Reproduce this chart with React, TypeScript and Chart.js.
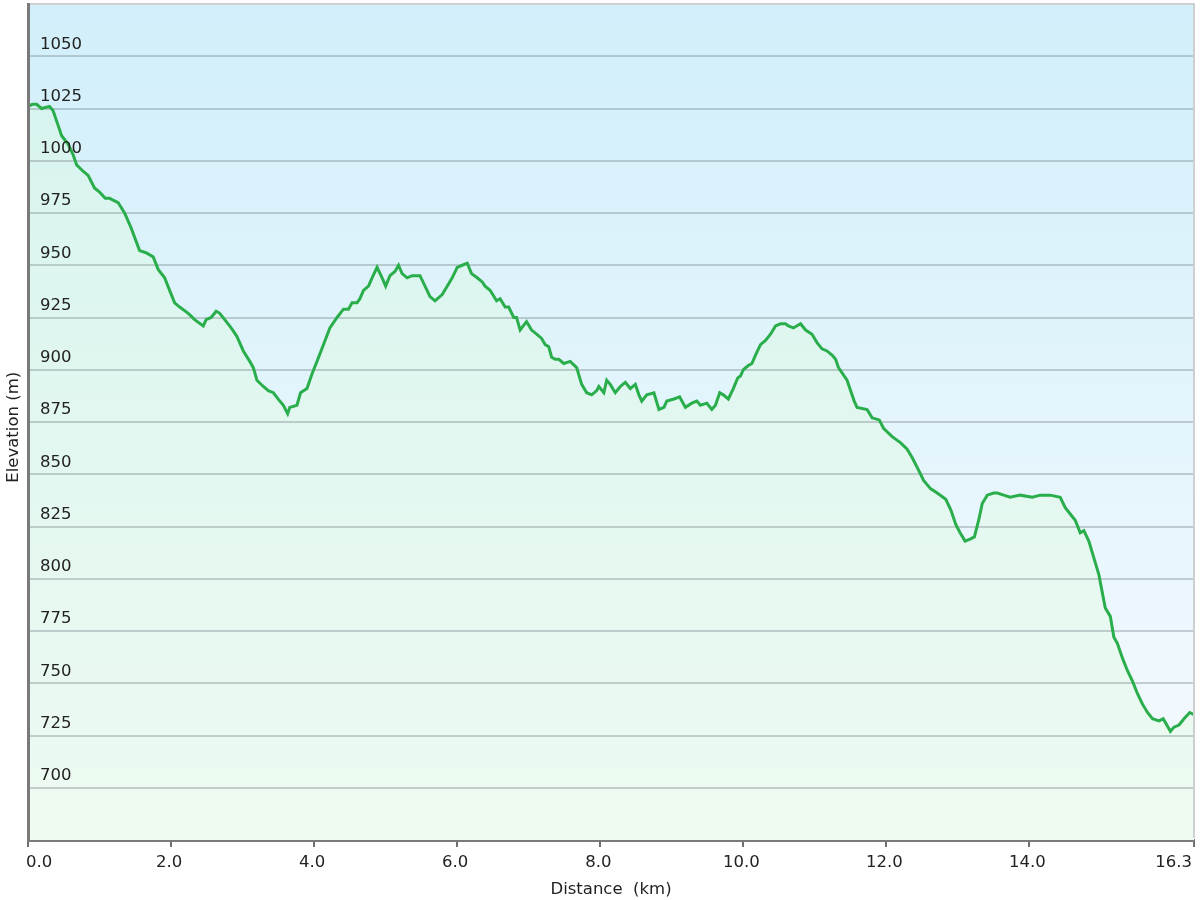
import React, { useEffect, useRef } from "react";
import { Chart, registerables } from "chart.js";

Chart.register(...registerables);

const distanceKm = [
  0.0, 0.06, 0.12, 0.19, 0.3, 0.35, 0.41, 0.47, 0.56, 0.63, 0.68, 0.77, 0.84, 0.93, 1.0, 1.08, 1.14, 1.26, 1.35, 1.44,
  1.56, 1.65, 1.75, 1.82, 1.91, 1.98, 2.05, 2.12, 2.24, 2.33, 2.45, 2.49, 2.56, 2.63, 2.68, 2.75, 2.84, 2.92, 3.01, 3.1,
  3.15, 3.2, 3.29, 3.36, 3.43, 3.52, 3.57, 3.63, 3.66, 3.76, 3.81, 3.9, 3.97, 4.04, 4.13, 4.22, 4.32, 4.41, 4.48, 4.53,
  4.6, 4.64, 4.69, 4.76, 4.81, 4.88, 4.95, 5.0, 5.06, 5.13, 5.18, 5.23, 5.3, 5.37, 5.48, 5.55, 5.62, 5.69, 5.79, 5.86,
  5.93, 6.0, 6.07, 6.14, 6.2, 6.28, 6.35, 6.39, 6.46, 6.55, 6.6, 6.67, 6.72, 6.79, 6.83, 6.88, 6.97, 7.04, 7.11, 7.18,
  7.23, 7.28, 7.32, 7.37, 7.42, 7.49, 7.58, 7.67, 7.74, 7.81, 7.88, 7.95, 7.98, 8.05, 8.09, 8.14, 8.21, 8.28, 8.35, 8.42,
  8.49, 8.54, 8.58, 8.65, 8.75, 8.82, 8.89, 8.93, 9.03, 9.11, 9.19, 9.28, 9.35, 9.4, 9.49, 9.56, 9.61, 9.67, 9.72, 9.79,
  9.86, 9.92, 9.96, 10.0, 10.07, 10.12, 10.17, 10.24, 10.31, 10.38, 10.45, 10.52, 10.59, 10.63, 10.7, 10.8, 10.87, 10.96,
  11.03, 11.1, 11.17, 11.24, 11.29, 11.33, 11.45, 11.5, 11.55, 11.59, 11.73, 11.8, 11.9, 11.96, 12.08, 12.2, 12.29, 12.36,
  12.45, 12.52, 12.62, 12.71, 12.83, 12.9, 12.97, 13.03, 13.1, 13.17, 13.23, 13.29, 13.34, 13.41, 13.5, 13.55, 13.64,
  13.73, 13.87, 14.04, 14.15, 14.29, 14.43, 14.5, 14.57, 14.64, 14.71, 14.76, 14.83, 14.9, 14.97, 15.02, 15.06, 15.13,
  15.18, 15.23, 15.3, 15.37, 15.44, 15.51, 15.58, 15.65, 15.72, 15.81, 15.87, 15.92, 15.97, 16.02, 16.09, 16.16, 16.24,
  16.3,
];

const elevationM = [
  1026, 1027, 1027, 1025, 1026, 1024, 1018, 1012, 1008, 1003, 998, 995, 993, 987, 985, 982, 982, 980, 975, 968,
  957, 956, 954, 948, 944, 938, 932, 930, 927, 924, 921, 924, 925, 928, 927, 924, 920, 916, 909, 904,
  901, 895, 892, 890, 889, 885, 883, 879, 882, 883, 889, 891, 898, 904, 912, 920, 925, 929, 929, 932,
  932, 934, 938, 940, 944, 949, 944, 940, 945, 947, 950, 946, 944, 945, 945, 940, 935, 933, 936, 940,
  944, 949, 950, 951, 946, 944, 942, 940, 938, 933, 934, 930, 930, 925, 925, 919, 923, 919, 917, 915,
  912, 911, 906, 905, 905, 903, 904, 901, 893, 889, 888, 890, 892, 889, 895, 893, 889, 892, 894, 891,
  893, 888, 885, 888, 889, 881, 882, 885, 886, 887, 882, 884, 885, 883, 884, 881, 883, 889, 888, 886,
  891, 896, 897, 900, 902, 903, 907, 912, 914, 917, 921, 922, 922, 921, 920, 922, 919, 917,
  913, 910, 909, 907, 905, 901, 895, 890, 885, 882, 881, 877, 876, 872, 868, 865, 862, 858,
  852, 847, 843, 841, 838, 833, 826, 822, 818, 819, 820, 828, 836, 840, 841, 841, 840,
  839, 840, 839, 840, 840, 839, 834, 831, 828, 822, 823, 818, 810, 802, 793, 786, 782,
  772, 769, 762, 756, 751, 745, 740, 736, 733, 732, 733, 730, 727, 729, 730, 733, 736,
  735,
];

const xTickValues = [0, 2, 4, 6, 8, 10, 12, 14, 16.3];
const yGridValues = [700, 725, 750, 775, 800, 825, 850, 875, 900, 925, 950, 975, 1000, 1025, 1050];
const Y_MIN = 675;
const Y_MAX = 1075;
const X_MAX = 16.3;

const FONT = { family: "'DejaVu Sans', Verdana, sans-serif", size: 16.5 };
const TEXT = "#222222";

const backgroundPlugin = {
  id: "bgGradient",
  beforeDraw(chart: any) {
    const a = chart.chartArea;
    if (!a) return;
    const ctx = chart.ctx;
    const g = ctx.createLinearGradient(0, a.top, 0, a.bottom);
    g.addColorStop(0, "#d1effa");
    g.addColorStop(1, "#f6fafe");
    ctx.save();
    ctx.fillStyle = g;
    ctx.fillRect(a.left, a.top, a.right - a.left, a.bottom - a.top);
    ctx.restore();
  },
};

const gridPlugin = {
  id: "gridOverFill",
  beforeDatasetsDraw(chart: any) {
    const a = chart.chartArea;
    const y = chart.scales.y;
    const ctx = chart.ctx;
    ctx.save();
    ctx.strokeStyle = "rgba(120,135,140,0.38)";
    ctx.lineWidth = 2;
    for (const v of yGridValues) {
      const py = Math.round(y.getPixelForValue(v));
      ctx.beginPath();
      ctx.moveTo(a.left, py);
      ctx.lineTo(a.right, py);
      ctx.stroke();
    }
    ctx.restore();
  },
};

const framePlugin = {
  id: "frame",
  afterDraw(chart: any) {
    const a = chart.chartArea;
    const ctx = chart.ctx;
    ctx.save();
    ctx.strokeStyle = "#cfcfcf";
    ctx.lineWidth = 2;
    ctx.beginPath();
    ctx.moveTo(a.left + 2, a.top);
    ctx.lineTo(a.right, a.top);
    ctx.lineTo(a.right, a.bottom - 2);
    ctx.stroke();
    ctx.restore();
  },
};

export default function App() {
  const ref = useRef<HTMLCanvasElement | null>(null);

  useEffect(() => {
    document.body.style.margin = "0";
    const canvas = ref.current;
    if (!canvas) return;
    const points = distanceKm.map((d, i) => ({ x: d, y: elevationM[i] }));
    const chart = new Chart(canvas, {
      type: "line",
      data: {
        datasets: [
          {
            data: points,
            borderColor: "#2aae4c",
            borderWidth: 3,
            pointRadius: 0,
            tension: 0,
            fill: "start",
            backgroundColor: (c: any) => {
              const ch = c.chart;
              const a = ch.chartArea;
              if (!a) return "rgba(0,0,0,0)";
              const g = ch.ctx.createLinearGradient(0, a.top, 0, a.bottom);
              g.addColorStop(0, "#d5f3ef");
              g.addColorStop(1, "#eefbf1");
              return g;
            },
          },
        ],
      },
      options: {
        animation: false,
        responsive: false,
        layout: { padding: { top: 4, right: 6, left: 0, bottom: 0 } },
        plugins: {
          legend: { display: false },
          tooltip: { enabled: false },
          filler: { drawTime: "beforeDatasetsDraw" },
        },
        scales: {
          x: {
            type: "linear",
            min: 0,
            max: X_MAX,
            afterBuildTicks: (s: any) => {
              s.ticks = xTickValues.map((v) => ({ value: v }));
            },
            afterFit: (s: any) => {
              s.height = 60;
              s.paddingLeft = 0;
              s.paddingRight = 0;
            },
            ticks: {
              autoSkip: false,
              maxRotation: 0,
              padding: 6,
              align: "inner",
              labelOffset: -2,
              font: FONT,
              color: TEXT,
              callback: (v: any) => Number(v).toFixed(1),
            },
            grid: {
              drawOnChartArea: false,
              drawTicks: true,
              tickLength: 7,
              color: "#6e6e6e",
              lineWidth: 2,
            },
            border: { color: "#7a7a7a", width: 3 },
            title: {
              display: true,
              text: "Distance  (km)",
              font: FONT,
              color: TEXT,
              padding: { top: 0, bottom: 0 },
            },
          },
          y: {
            type: "linear",
            min: Y_MIN,
            max: Y_MAX,
            afterFit: (s: any) => {
              s.width = 28;
              s.paddingTop = 0;
              s.paddingBottom = 0;
            },
            ticks: {
              z: 1,
              stepSize: 25,
              mirror: true,
              padding: 12,
              labelOffset: -12,
              font: FONT,
              color: TEXT,
              callback: (v: any) => (v === Y_MIN || v === Y_MAX ? "" : String(v)),
            },
            grid: { drawOnChartArea: false, drawTicks: false },
            border: { color: "#7a7a7a", width: 3, z: 1 },
            title: {
              display: true,
              text: "Elevation (m)  ",
              font: FONT,
              color: TEXT,
              padding: { top: 4, bottom: 4 },
            },
          },
        },
      },
      plugins: [backgroundPlugin, gridPlugin, framePlugin],
    } as any);
    return () => chart.destroy();
  }, []);

  return (
    <div style={{ position: "absolute", left: 0, top: 0, width: 1200, height: 900 }}>
      <canvas ref={ref} width={1200} height={900} style={{ width: 1200, height: 900 }} />
    </div>
  );
}
